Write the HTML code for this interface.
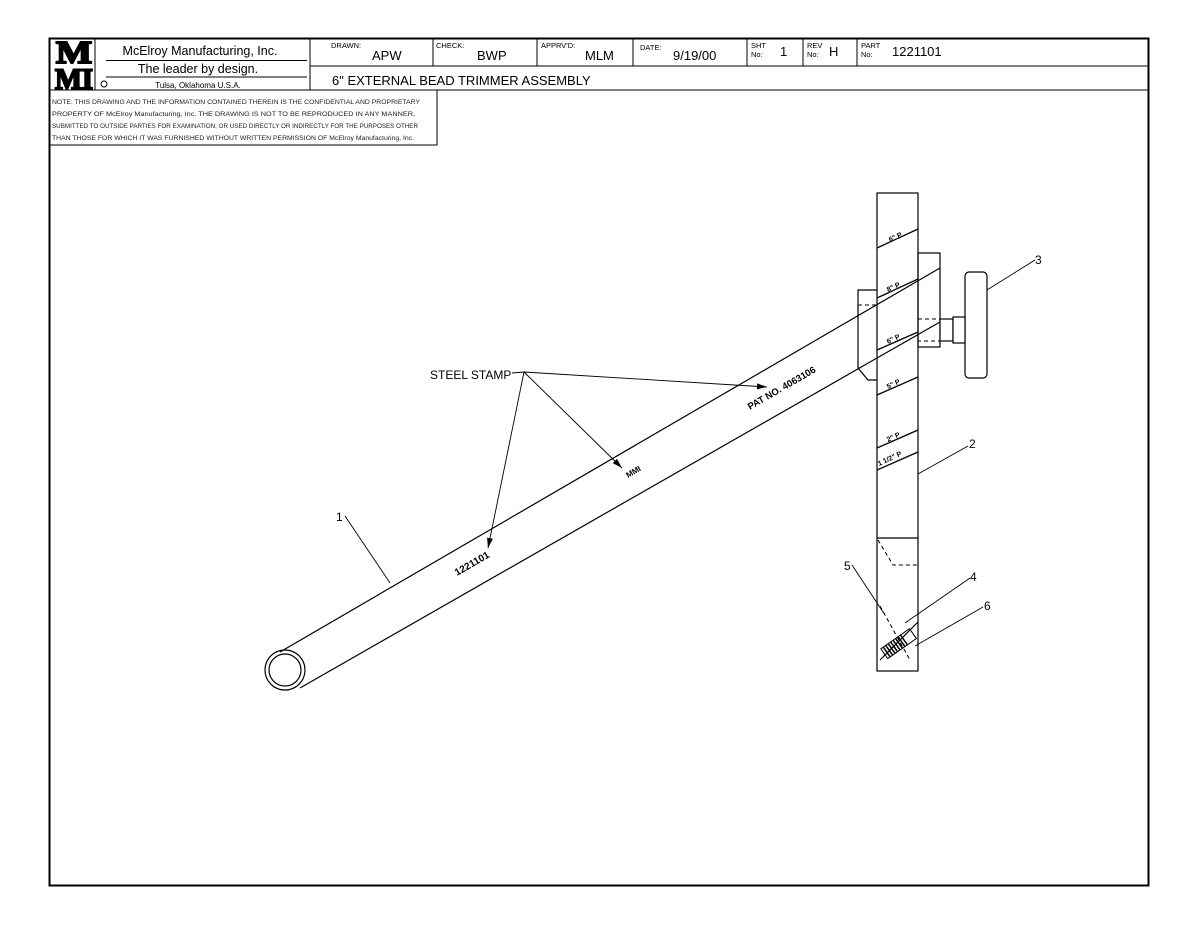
<!DOCTYPE html>
<html><head><meta charset="utf-8"><style>
body{margin:0;background:#fff;}
svg{display:block;font-family:"Liberation Sans",sans-serif;}
</style></head><body>
<svg width="1200" height="927" viewBox="0 0 1200 927">
<rect x="0" y="0" width="1200" height="927" fill="#fff"/>
<rect x="49.5" y="38.5" width="1099" height="847" fill="none" stroke="#000" stroke-width="2"/>
<!-- title block -->
<g stroke="#000" stroke-width="1" fill="none">
<line x1="95" y1="38" x2="95" y2="90"/>
<line x1="310" y1="38" x2="310" y2="90"/>
<line x1="310" y1="66" x2="1148" y2="66"/>
<line x1="49" y1="90" x2="1148" y2="90"/>
<line x1="433" y1="38" x2="433" y2="66"/>
<line x1="537" y1="38" x2="537" y2="66"/>
<line x1="633" y1="38" x2="633" y2="66"/>
<line x1="747" y1="38" x2="747" y2="66"/>
<line x1="803" y1="38" x2="803" y2="66"/>
<line x1="857" y1="38" x2="857" y2="66"/>
<line x1="106" y1="60.5" x2="307" y2="60.5"/>
<line x1="106" y1="77" x2="307" y2="77"/>
<polyline points="49,145 437,145 437,90"/>
<circle cx="104" cy="84" r="3"/>
</g>
<text x="56" y="63" font-family="Liberation Serif,serif" font-weight="bold" font-size="32" stroke="#000" stroke-width="2" textLength="36" lengthAdjust="spacingAndGlyphs">M</text>
<text x="55" y="89" font-family="Liberation Serif,serif" font-weight="bold" font-size="30" stroke="#000" stroke-width="2" textLength="38" lengthAdjust="spacingAndGlyphs">MI</text>
<text x="200" y="55" font-size="12.5" text-anchor="middle">McElroy Manufacturing, Inc.</text>
<text x="198" y="73" font-size="12.5" text-anchor="middle">The leader by design.</text>
<text x="198" y="88" font-size="8" text-anchor="middle">Tulsa, Oklahoma U.S.A.</text>
<g font-size="7.5">
<text x="331" y="48">DRAWN:</text><text x="436" y="48">CHECK:</text><text x="541" y="48">APPRV'D:</text><text x="640" y="50">DATE:</text>
<text x="751" y="48">SHT</text><text x="751" y="57">No:</text>
<text x="807" y="48">REV</text><text x="807" y="57">No:</text>
<text x="861" y="48">PART</text><text x="861" y="57">No:</text>
</g>
<g font-size="13">
<text x="372" y="60">APW</text><text x="477" y="60">BWP</text><text x="585" y="60">MLM</text><text x="673" y="60">9/19/00</text>
<text x="780" y="56">1</text><text x="829" y="56">H</text><text x="892" y="56">1221101</text>
<text x="332" y="85">6" EXTERNAL BEAD TRIMMER ASSEMBLY</text>
</g>
<g font-size="6.6" fill="#222">
<text x="52" y="104" textLength="368" lengthAdjust="spacingAndGlyphs">NOTE: THIS DRAWING AND THE INFORMATION CONTAINED THEREIN IS THE CONFIDENTIAL AND PROPRIETARY</text>
<text x="52" y="116" textLength="363" lengthAdjust="spacingAndGlyphs">PROPERTY OF McElroy Manufacturing, Inc. THE DRAWING IS NOT TO BE REPRODUCED IN ANY MANNER,</text>
<text x="52" y="128" textLength="366" lengthAdjust="spacingAndGlyphs">SUBMITTED TO OUTSIDE PARTIES FOR EXAMINATION, OR USED DIRECTLY OR INDIRECTLY FOR THE PURPOSES OTHER</text>
<text x="52" y="140" textLength="362" lengthAdjust="spacingAndGlyphs">THAN THOSE FOR WHICH IT WAS FURNISHED WITHOUT WRITTEN PERMISSION OF McElroy Manufacturing, Inc.</text>
</g>
<!-- pipe -->
<g stroke="#000" stroke-width="1.2" fill="none">
<line x1="280" y1="652" x2="940" y2="268"/>
<line x1="300" y1="688" x2="940" y2="322"/>
<ellipse cx="285" cy="670" rx="20" ry="20"/>
<ellipse cx="285" cy="670" rx="16" ry="16"/>
</g>
<!-- bar -->
<g stroke="#000" stroke-width="1.2" fill="none">
<rect x="877" y="193" width="41" height="478"/>
<polyline points="877,290 858,290 858,368 868,380 877,380"/>
<rect x="918" y="253" width="22" height="94"/>
<rect x="965" y="272" width="22" height="106" rx="4" fill="#fff"/>
<rect x="940" y="319" width="13" height="22" fill="#fff"/>
<rect x="953" y="317" width="12" height="26" fill="#fff"/>
<line x1="877" y1="538" x2="918" y2="538"/>
<line x1="918" y1="622" x2="880" y2="660"/>
</g>
<g stroke="#000" stroke-width="1" fill="none" stroke-dasharray="4,3">
<line x1="858" y1="305" x2="877" y2="305"/>
<line x1="877" y1="320" x2="877" y2="371"/>
<rect x="918" y="319" width="22" height="22"/>
<polyline points="878,540 893,565 918,565"/>
<line x1="880" y1="606" x2="910" y2="660"/>
<line x1="877" y1="606" x2="877" y2="640"/>
</g>
<!-- stripes on bar -->
<g stroke="#000" stroke-width="1.3">
<line x1="877" y1="248" x2="918" y2="229"/>
<line x1="877" y1="298" x2="918" y2="279"/>
<line x1="877" y1="350" x2="918" y2="332"/>
<line x1="877" y1="395" x2="918" y2="377"/>
<line x1="877" y1="448" x2="918" y2="430"/>
<line x1="877" y1="470" x2="918" y2="452"/>
</g>
<g font-size="7" font-weight="bold">
<text x="890" y="242" transform="rotate(-25 890 242)">6" P</text>
<text x="888" y="292" transform="rotate(-25 888 292)">8" P</text>
<text x="888" y="344" transform="rotate(-25 888 344)">6" P</text>
<text x="888" y="389" transform="rotate(-25 888 389)">5" P</text>
<text x="888" y="442" transform="rotate(-25 888 442)">2" P</text>
<text x="879" y="466" transform="rotate(-25 879 466)">1 1/2" P</text>
</g>
<!-- screw -->
<g transform="rotate(-35 900 650)" stroke="#000" fill="none">
<rect x="885" y="638" width="35" height="12" stroke-width="1"/>
<g stroke-width="1.5">
<line x1="888" y1="638" x2="888" y2="650"/><line x1="891" y1="638" x2="891" y2="650"/><line x1="894" y1="638" x2="894" y2="650"/><line x1="897" y1="638" x2="897" y2="650"/><line x1="900" y1="638" x2="900" y2="650"/><line x1="903" y1="638" x2="903" y2="650"/><line x1="906" y1="638" x2="906" y2="650"/><line x1="909" y1="638" x2="909" y2="650"/>
</g>
</g>
<!-- stamps -->
<g font-size="10" font-weight="bold">
<text x="457" y="576" transform="rotate(-30 457 576)">1221101</text>
<text x="628" y="478" transform="rotate(-30 628 478)" font-size="8">MMI</text>
<text x="750" y="410" transform="rotate(-30 750 410)" font-size="9.5">PAT NO. 4063106</text>
</g>
<!-- leaders -->
<defs><marker id="a" markerWidth="10" markerHeight="6" refX="10" refY="3" orient="auto" markerUnits="userSpaceOnUse"><path d="M0,0 L10,3 L0,6 z" fill="#000"/></marker></defs>
<g stroke="#000" stroke-width="0.9" fill="none">
<line x1="512" y1="373" x2="524" y2="372"/>
<line x1="524" y1="372" x2="488" y2="548" marker-end="url(#a)"/>
<line x1="524" y1="372" x2="622" y2="468" marker-end="url(#a)"/>
<line x1="524" y1="372" x2="767" y2="387" marker-end="url(#a)"/>
<line x1="345" y1="516" x2="390" y2="583"/>
<line x1="918" y1="474" x2="968" y2="446"/>
<line x1="987" y1="290" x2="1035" y2="260"/>
<line x1="905" y1="623" x2="970" y2="578"/>
<line x1="852" y1="565" x2="885" y2="615"/>
<line x1="915" y1="646" x2="983" y2="607"/>
</g>
<g font-size="12">
<text x="430" y="379">STEEL STAMP</text>
<text x="336" y="521">1</text>
<text x="969" y="448">2</text>
<text x="1035" y="264">3</text>
<text x="970" y="581">4</text>
<text x="844" y="570">5</text>
<text x="984" y="610">6</text>
</g>
</svg>
</body></html>
